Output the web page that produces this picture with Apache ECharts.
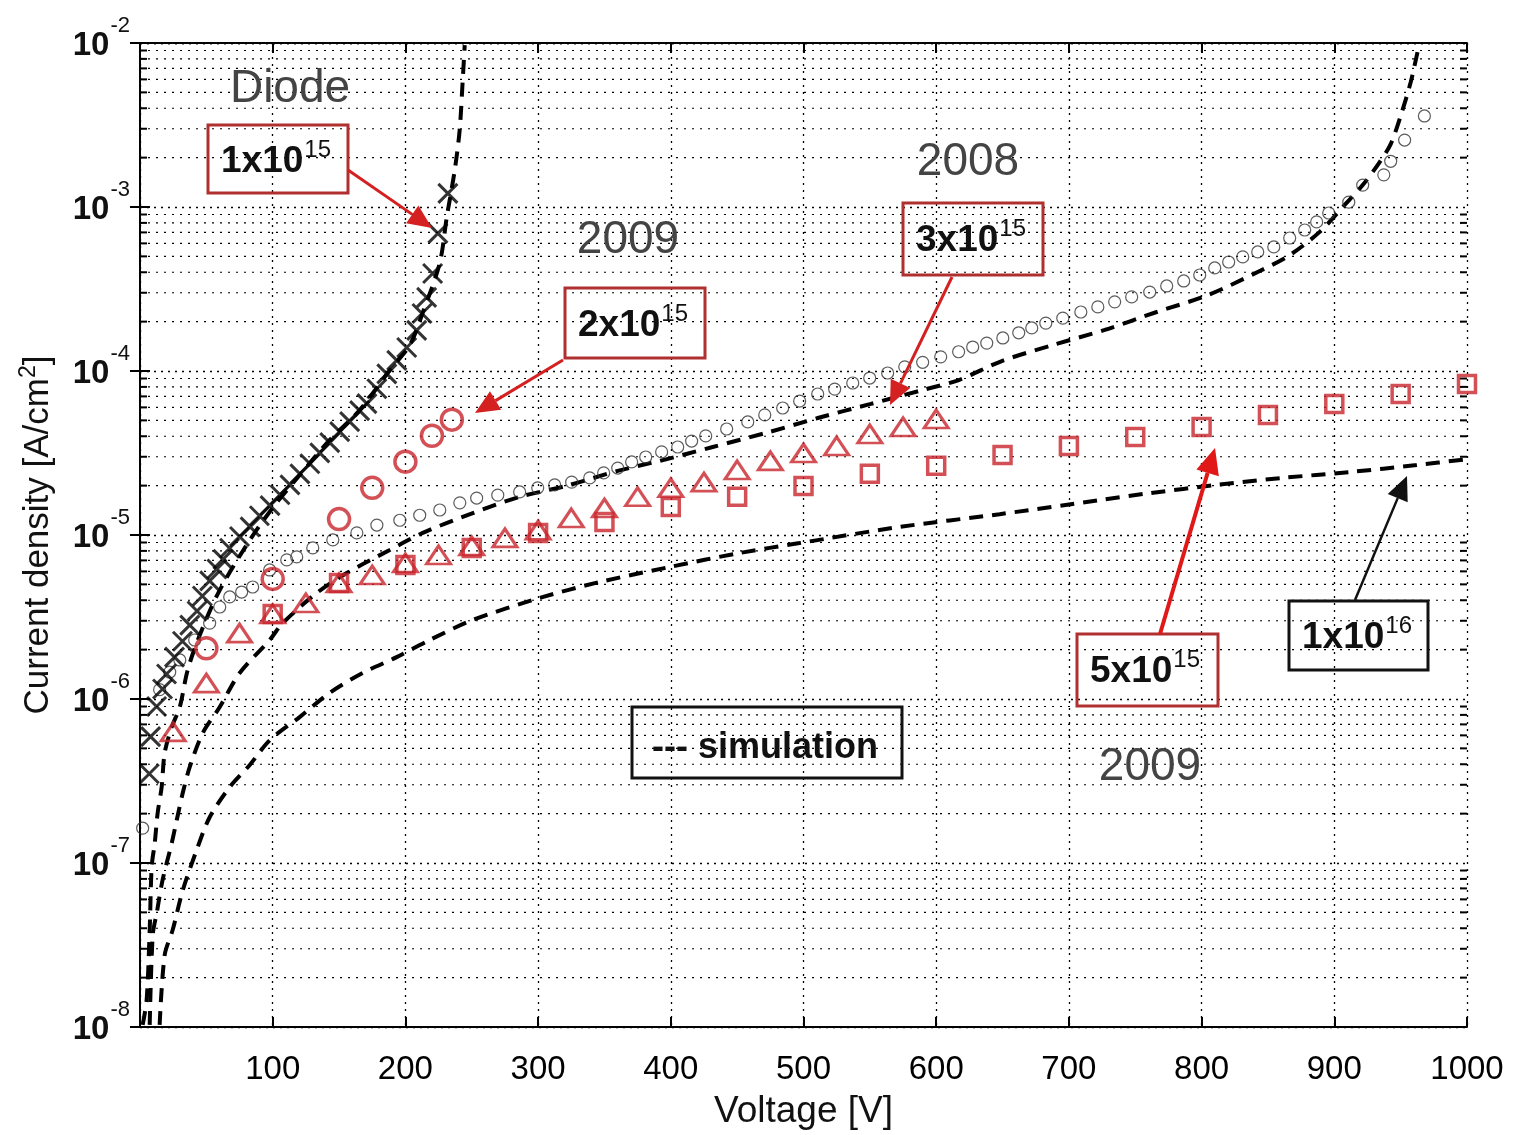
<!DOCTYPE html>
<html>
<head>
<meta charset="utf-8">
<script src="https://cdn.jsdelivr.net/npm/echarts@6/dist/echarts.min.js"></script>
<style>
  html, body { margin: 0; padding: 0; background: #fff; }
  #chart { width: 1513px; height: 1135px; }
</style>
</head>
<body>
<div id="chart"></div>
<script>
// x ticks and decades of the log axis
const xTicks = [0, 100, 200, 300, 400, 500, 600, 700, 800, 900, 1000];
const decades = [-8, -7, -6, -5, -4, -3, -2];

// 1x10^15 diode, measured (black crosses)
const crossV = [7, 8, 12.5, 17, 20, 26, 32, 37.5, 43, 47, 52.5, 58, 62.5, 67.5, 75, 83, 90, 98, 105.5, 113,
  120.5, 128, 135.5, 143, 150.5, 158, 165.5, 171, 178.5, 186, 193.5, 201, 208.5, 212.5, 216, 220.5, 224.5, 232];
const crossJ = [3.5e-7, 5.9e-7, 9.0e-7, 1.15e-6, 1.42e-6, 1.8e-6, 2.25e-6, 2.82e-6, 3.44e-6, 4.25e-6, 5.25e-6,
  6.2e-6, 7.1e-6, 8.3e-6, 9.8e-6, 1.12e-5, 1.31e-5, 1.51e-5, 1.76e-5, 2.02e-5, 2.36e-5, 2.72e-5, 3.17e-5,
  3.66e-5, 4.27e-5, 4.91e-5, 5.73e-5, 6.32e-5, 7.8e-5, 9.6e-5, 1.16e-4, 1.39e-4, 1.77e-4, 2.24e-4, 2.81e-4,
  3.93e-4, 6.9e-4, 1.21e-3];

// 3x10^15, 2008 (small black circles)
const circV = [2, 14.8, 22.4, 30, 41.2, 52.5, 60.1, 67.6, 76.6, 84.9, 97.7, 110.6, 118.1, 130.2, 145.3, 163.4,
  178.5, 195.8, 210.8, 225.9, 241, 253.7, 269.6, 286.1, 299.7, 312.5, 325.3, 338.9, 349.4, 360, 370.5, 381.1,
  393.1, 405.2, 415.7, 426.3, 442.1, 458, 470.8, 484.3, 497.1, 510.7, 523.5, 537.1, 549.9, 563.4, 576.3, 589.8,
  603.4, 616.9, 627.5, 638.1, 650.2, 662.2, 672, 682.6, 695.4, 709, 721.8, 734.5, 747.3, 760.9, 773.7, 786.5,
  798.6, 809.9, 820.4, 831, 842.3, 854.4, 866.4, 877.7, 886.7, 895.8, 910.9, 921.4, 937.3, 942.5, 953, 967.9];
const circJ = [1.63e-7, 1.14e-6, 1.46e-6, 1.73e-6, 2.29e-6, 2.9e-6, 3.64e-6, 4.19e-6, 4.49e-6, 4.82e-6, 6.12e-6,
  7.05e-6, 7.35e-6, 8.34e-6, 9.33e-6, 1.03e-5, 1.15e-5, 1.23e-5, 1.32e-5, 1.42e-5, 1.57e-5, 1.68e-5, 1.75e-5,
  1.83e-5, 1.94e-5, 2.02e-5, 2.1e-5, 2.23e-5, 2.39e-5, 2.56e-5, 2.79e-5, 2.99e-5, 3.21e-5, 3.44e-5, 3.74e-5,
  4.02e-5, 4.43e-5, 4.89e-5, 5.4e-5, 5.95e-5, 6.56e-5, 7.24e-5, 7.76e-5, 8.45e-5, 9.06e-5, 9.72e-5, 1.06e-4,
  1.13e-4, 1.22e-4, 1.31e-4, 1.4e-4, 1.48e-4, 1.59e-4, 1.71e-4, 1.83e-4, 1.96e-4, 2.1e-4, 2.29e-4, 2.46e-4,
  2.64e-4, 2.83e-4, 3.03e-4, 3.3e-4, 3.54e-4, 3.85e-4, 4.25e-4, 4.62e-4, 4.96e-4, 5.32e-4, 5.71e-4, 6.47e-4,
  7.24e-4, 8.11e-4, 9.19e-4, 1.07e-3, 1.36e-3, 1.57e-3, 1.9e-3, 2.56e-3, 3.59e-3];

// 2x10^15, 2009 (red circles)
const redCircV = [50, 100, 150, 175, 200, 220, 235];
const redCircJ = [2.04e-6, 5.4e-6, 1.25e-5, 1.94e-5, 2.8e-5, 4.03e-5, 5.05e-5];

// 3x10^15, 2009 (red triangles)
const triV = [25, 50, 75, 100, 125, 150, 175, 200, 225, 250, 275, 300, 325, 350, 375, 400, 425, 450, 475, 500,
  525, 550, 575, 600];
const triJ = [6.3e-7, 1.25e-6, 2.52e-6, 3.3e-6, 3.85e-6, 5.1e-6, 5.7e-6, 6.75e-6, 7.55e-6, 8.57e-6, 9.6e-6,
  1.07e-5, 1.27e-5, 1.46e-5, 1.71e-5, 1.94e-5, 2.1e-5, 2.49e-5, 2.83e-5, 3.16e-5, 3.49e-5, 4.13e-5, 4.56e-5, 5.1e-5];

// 5x10^15, 2009 (red squares)
const sqV = [100, 150, 200, 250, 300, 350, 400, 450, 500, 550, 600, 650, 700, 750, 800, 850, 900, 950, 1000];
const sqJ = [3.3e-6, 5.1e-6, 6.56e-6, 8.34e-6, 1.03e-5, 1.2e-5, 1.48e-5, 1.71e-5, 1.99e-5, 2.36e-5, 2.64e-5,
  3.08e-5, 3.49e-5, 3.96e-5, 4.56e-5, 5.4e-5, 6.3e-5, 7.24e-5, 8.34e-5];

// simulations (dashed)
const simDiodeV = [2, 5, 7.3, 8.8, 11.1, 13.3, 16.3, 18.6, 23.9, 29.9, 35.9, 45, 60, 82.7, 101.5, 120.4, 143,
  165.6, 188.2, 203.3, 213, 225.9, 231.2, 237.2, 240.9, 243.2, 244.7];
const simDiodeJ = [1.03e-8, 1.46e-8, 3.9e-8, 9.5e-8, 1.32e-7, 2.02e-7, 2.9e-7, 4.69e-7, 6.75e-7, 8.9e-7, 1.5e-6,
  2.45e-6, 4.6e-6, 9.3e-6, 1.52e-5, 2.32e-5, 3.8e-5, 5.78e-5, 1.01e-4, 1.44e-4, 2.26e-4, 4.56e-4, 8.7e-4,
  1.68e-3, 2.95e-3, 5.94e-3, 9.7e-3];
const sim3e15V = [7.3, 9.6, 12.6, 17, 23.9, 27.7, 32.2, 37.5, 47.3, 60.1, 75.1, 97.7, 107.5, 133.2, 155.8, 188.2,
  213.1, 250.8, 286.2, 320.9, 360, 391.7, 431.6, 471.6, 510.8, 550.7, 589.9, 617, 649.4, 687.9, 727, 766.2,
  804.6, 843.8, 866.4, 889, 907.8, 921.4, 934.2, 942.5, 950, 957.6, 962.9, 964.4];
const sim3e15J = [1.03e-8, 3.64e-8, 4.95e-8, 7.87e-8, 1.32e-7, 1.83e-7, 2.67e-7, 3.85e-7, 6.2e-7, 8.93e-7,
  1.44e-6, 2.29e-6, 2.9e-6, 4.43e-6, 5.86e-6, 8.1e-6, 1.03e-5, 1.36e-5, 1.71e-5, 1.99e-5, 2.46e-5, 2.83e-5,
  3.44e-5, 4.19e-5, 5.17e-5, 6.3e-5, 7.66e-5, 8.81e-5, 1.15e-4, 1.44e-4, 1.78e-4, 2.29e-4, 2.9e-4, 4.07e-4,
  5.09e-4, 7.05e-4, 1.03e-3, 1.36e-3, 1.88e-3, 2.42e-3, 3.59e-3, 5.78e-3, 8.93e-3, 1e-2];
const sim1e16V = [14.8, 18.6, 24.6, 32.2, 42.7, 52.5, 67.6, 82.7, 97.7, 120.3, 142.9, 167.8, 193.4, 218.3, 250.7,
  301.2, 346.4, 399.2, 451.9, 497.1, 572.5, 647.8, 723.2, 760.9, 811.4, 861.2, 911.7, 962.2, 1000];
const sim1e16J = [1.03e-8, 2.75e-8, 3.9e-8, 6.8e-8, 1.2e-7, 1.9e-7, 2.9e-7, 3.96e-7, 5.6e-7, 7.76e-7, 1.09e-6,
  1.44e-6, 1.8e-6, 2.29e-6, 3.03e-6, 4.13e-6, 5.17e-6, 6.38e-6, 7.77e-6, 8.93e-6, 1.12e-5, 1.34e-5, 1.63e-5,
  1.8e-5, 2.02e-5, 2.23e-5, 2.42e-5, 2.67e-5, 2.9e-5];

const pairs = (xs, ys) => xs.map((x, i) => [x, ys[i]]);

// minor log grid lines at 2..9 x 10^k
const minorGrid = [];
decades.slice(0, -1).forEach(d => {
  for (let m = 2; m <= 9; m++) minorGrid.push(m * Math.pow(10, d));
});

const FONT = '"Liberation Sans", Arial, sans-serif';
const RED = '#c8262c';
const dotted = { type: [2, 5], color: '#000', width: 1.3 };

const chart = echarts.init(document.getElementById('chart'), null, { renderer: 'canvas' });

const simLine = (name, xs, ys) => ({
  name: name,
  type: 'line',
  data: pairs(xs, ys),
  showSymbol: false,
  symbol: 'none',
  smooth: 0.3,
  lineStyle: { color: '#000', width: 4, type: [14, 9] },
  z: 3
});

function arrow(x1, y1, x2, y2, color, w, hl) {
  const a = Math.atan2(y2 - y1, x2 - x1);
  const hw = hl * 0.45;
  const bx = x2 - hl * Math.cos(a), by = y2 - hl * Math.sin(a);
  return [
    { type: 'line', z: 100, shape: { x1: x1, y1: y1, x2: bx, y2: by }, style: { stroke: color, lineWidth: w } },
    { type: 'polygon', z: 100, shape: { points: [[x2, y2], [bx + hw * Math.sin(a), by - hw * Math.cos(a)],
      [bx - hw * Math.sin(a), by + hw * Math.cos(a)]] }, style: { fill: color } }
  ];
}

function box(x, y, w, h, color) {
  return { type: 'rect', z: 100, shape: { x: x, y: y, width: w, height: h },
    style: { fill: 'none', stroke: color, lineWidth: 3 } };
}

function powText(cx, cy, base, sup) {
  return { type: 'text', z: 101, style: {
    x: cx, y: cy, align: 'center', verticalAlign: 'middle',
    text: '{a|' + base + '}{b|' + sup + '}',
    rich: {
      a: { fontSize: 37, fontWeight: 'bold', fontFamily: FONT, fill: '#111' },
      b: { fontSize: 24, fontWeight: 'normal', fontFamily: FONT, fill: '#111', padding: [0, 0, 24, 1] }
    }
  } };
}

function grayText(cx, cy, t) {
  return { type: 'text', z: 101, style: { x: cx, y: cy, align: 'center', verticalAlign: 'middle',
    text: t, fontSize: 46, fontFamily: FONT, fill: '#444' } };
}

const graphics = [].concat(
  grayText(290, 89, 'Diode'),
  grayText(628, 240, '2009'),
  grayText(968, 162, '2008'),
  grayText(1150, 767, '2009'),
  box(208, 125, 140, 68, '#b03030'),
  powText(276, 162, '1x10', '15'),
  arrow(348, 170, 432, 228, '#d42020', 3, 24),
  box(565, 288, 140, 70, '#b03030'),
  powText(633, 326, '2x10', '15'),
  arrow(563, 360, 475, 413, '#d42020', 3, 24),
  box(903, 203, 140, 72, '#b03030'),
  powText(971, 241, '3x10', '15'),
  arrow(952, 277, 890, 405, '#d42020', 3, 24),
  box(1077, 634, 141, 72, '#b03030'),
  powText(1145, 672, '5x10', '15'),
  arrow(1160, 634, 1215, 448, '#e01818', 4, 26),
  box(1289, 601, 139, 69, '#111'),
  powText(1357, 638, '1x10', '16'),
  arrow(1355, 600, 1407, 476, '#111', 2.5, 24),
  box(632, 707, 270, 71, '#111'),
  { type: 'text', z: 101, style: { x: 765, y: 748, align: 'center', verticalAlign: 'middle',
    text: '--- simulation', fontSize: 36, fontWeight: 'bold', fontFamily: FONT, fill: '#111' } }
);

const option = {
  backgroundColor: '#fff',
  animation: false,
  grid: { left: 140, top: 43, width: 1327, height: 984, containLabel: false, outerBoundsMode: 'none' },
  xAxis: [
    {
      type: 'value', min: xTicks[0], max: xTicks[xTicks.length - 1], interval: 100,
      position: 'bottom',
      name: 'Voltage [V]', nameLocation: 'middle', nameGap: 66,
      nameTextStyle: { fontSize: 37, fontFamily: FONT, color: '#111' },
      axisLine: { lineStyle: { color: '#000', width: 2 } },
      axisTick: { inside: true, length: 10, lineStyle: { color: '#000', width: 2 } },
      axisLabel: { formatter: v => (v === 0 ? '' : String(v)), fontSize: 33, fontFamily: FONT,
        color: '#000', margin: 26 },
      splitLine: { show: true, lineStyle: dotted }
    },
    {
      type: 'value', min: xTicks[0], max: xTicks[xTicks.length - 1], interval: 100,
      position: 'top',
      axisLine: { lineStyle: { color: '#000', width: 2 } },
      axisTick: { inside: true, length: 10, lineStyle: { color: '#000', width: 2 } },
      axisLabel: { show: false },
      splitLine: { show: false }
    }
  ],
  yAxis: [
    {
      type: 'log', logBase: 10, min: 1e-8, max: 1e-2, splitNumber: 6,
      position: 'left',
      name: 'Current density [A/cm{s|2}]', nameLocation: 'middle', nameGap: 80,
      nameTextStyle: { fontSize: 35, fontFamily: FONT, color: '#111',
        rich: { s: { fontSize: 23, fontFamily: FONT, color: '#111', padding: [0, 0, 20, 0] } } },
      axisLine: { lineStyle: { color: '#000', width: 2 } },
      axisTick: { inside: true, length: 10, lineStyle: { color: '#000', width: 2 } },
      axisLabel: {
        margin: 10,
        formatter: v => '{n|10}{s|' + Math.round(Math.log10(v)) + '}',
        rich: {
          n: { fontSize: 33, fontWeight: 'bold', fontFamily: FONT, color: '#111', padding: [6, 0, 0, 0] },
          s: { fontSize: 22, fontFamily: FONT, color: '#111', padding: [0, 0, 34, 1] }
        }
      },
      splitLine: { show: true, lineStyle: dotted }
    },
    {
      type: 'log', logBase: 10, min: 1e-8, max: 1e-2, splitNumber: 6,
      position: 'right',
      axisLine: { lineStyle: { color: '#000', width: 2 } },
      axisTick: { inside: true, length: 10, lineStyle: { color: '#000', width: 2 } },
      axisLabel: { show: false },
      splitLine: { show: false }
    }
  ],
  series: [
    {
      // minor log grid lines plus minor ticks on both y axes
      name: 'minor grid', type: 'custom', silent: true, z: 1,
      data: minorGrid.map(v => [xTicks[0], v]),
      encode: { x: 0, y: 1 },
      renderItem: (params, api) => {
        const v = api.value(1);
        const a = api.coord([xTicks[0], v]);
        const b = api.coord([xTicks[xTicks.length - 1], v]);
        return {
          type: 'group',
          children: [
            { type: 'line', shape: { x1: a[0], y1: a[1], x2: b[0], y2: b[1] },
              style: { stroke: '#000', lineWidth: 1.2, lineDash: [2, 6] } },
            { type: 'line', shape: { x1: a[0], y1: a[1], x2: a[0] + 7, y2: a[1] },
              style: { stroke: '#000', lineWidth: 2 } },
            { type: 'line', shape: { x1: b[0] - 7, y1: b[1], x2: b[0], y2: b[1] },
              style: { stroke: '#000', lineWidth: 2 } }
          ]
        };
      }
    },
    simLine('simulation 1x10^15', simDiodeV, simDiodeJ),
    simLine('simulation 3x10^15', sim3e15V, sim3e15J),
    simLine('simulation 1x10^16', sim1e16V, sim1e16J),
    {
      name: '1x10^15', type: 'scatter', data: pairs(crossV, crossJ),
      symbol: 'path://M0,0L10,10M10,0L0,10', symbolSize: 19,
      itemStyle: { color: 'rgba(0,0,0,0)', borderColor: '#000', borderWidth: 3 }, z: 5
    },
    {
      name: '3x10^15 2008', type: 'scatter', data: pairs(circV, circJ),
      symbol: 'circle', symbolSize: 12,
      itemStyle: { color: 'rgba(0,0,0,0)', borderColor: '#333', borderWidth: 1.2 }, z: 4
    },
    {
      name: '2x10^15', type: 'scatter', data: pairs(redCircV, redCircJ),
      symbol: 'circle', symbolSize: 21,
      itemStyle: { color: 'rgba(0,0,0,0)', borderColor: RED, borderWidth: 3.5 }, z: 6
    },
    {
      name: '3x10^15 2009', type: 'scatter', data: pairs(triV, triJ),
      symbol: 'triangle', symbolSize: [24, 18],
      itemStyle: { color: 'rgba(0,0,0,0)', borderColor: RED, borderWidth: 3 }, z: 6
    },
    {
      name: '5x10^15', type: 'scatter', data: pairs(sqV, sqJ),
      symbol: 'rect', symbolSize: 17,
      itemStyle: { color: 'rgba(0,0,0,0)', borderColor: RED, borderWidth: 3.5 }, z: 6
    }
  ],
  graphic: graphics
};

chart.setOption(option);
</script>
</body>
</html>
